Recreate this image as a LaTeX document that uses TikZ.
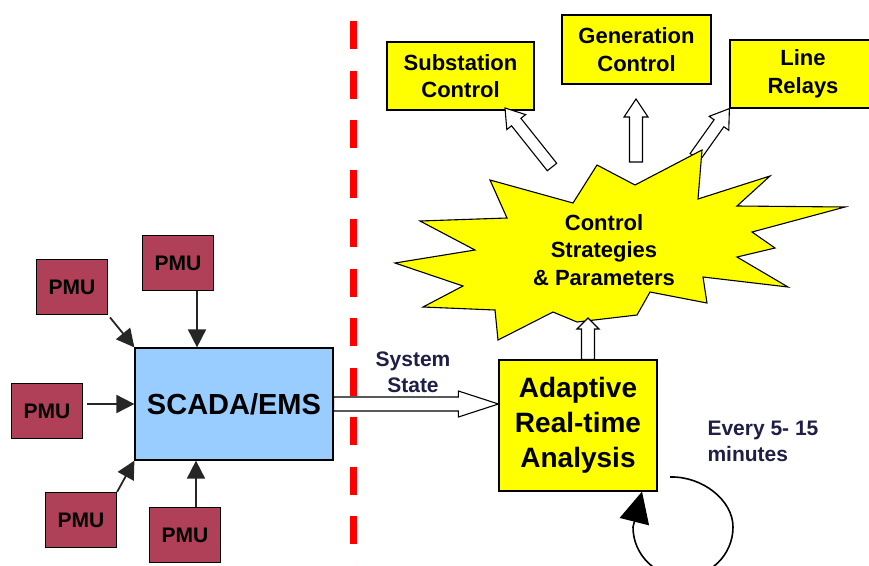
\documentclass[tikz,border=0pt]{standalone}
\usepackage{fontspec}
\setmainfont{Liberation Sans}
\usetikzlibrary{arrows.meta,calc,positioning}
\definecolor{pmured}{RGB}{176,64,88}
\definecolor{scadablue}{RGB}{153,204,255}
\definecolor{boxyellow}{RGB}{255,255,0}
\definecolor{labelnavy}{RGB}{30,30,70}
\tikzset{
    pmu/.style={draw, fill=pmured, line width=1.2pt, minimum width=71pt, minimum height=55pt, font=\bfseries\fontsize{21pt}{25pt}\selectfont},
    scadabox/.style={draw, fill=scadablue, line width=1.2pt, minimum width=198pt, minimum height=112pt, font=\bfseries\fontsize{29pt}{34pt}\selectfont},
    ctrlbox/.style={draw, fill=boxyellow, line width=1.2pt, align=center, font=\bfseries\fontsize{22pt}{27.5pt}\selectfont},
    feed/.style={-{Triangle[length=18pt, width=18pt]}, line width=1.8pt, black!85},
    hollow/.style={draw, fill=white, line width=1.1pt, line join=miter},
    burst/.style={draw, fill=boxyellow, line width=1.1pt, line join=miter},
    divider/.style={red, line width=7pt, dash pattern=on 28pt off 21.5pt},
    note/.style={text=labelnavy, font=\bfseries\fontsize{21pt}{26pt}\selectfont}
}
% hollow block arrow: from, to, shaft half width, head half width, head length
\newcommand{\hollowarrow}[5]{%
    \coordinate (ha) at ($(#2)!#5!(#1)$);
    \draw[hollow] ($(#1)!#3!90:(#2)$) -- ($(ha)!#3!90:(#2)$) -- ($(ha)!#4!90:(#2)$) -- (#2)
        -- ($(ha)!#4!-90:(#2)$) -- ($(ha)!#3!-90:(#2)$) -- ($(#1)!#3!-90:(#2)$) -- cycle;
}

\begin{document}
\begin{tikzpicture}[x=1pt, y=-1pt]
    \useasboundingbox (0,0) rectangle (869,565);

    % left side: PMUs feeding SCADA
    \node[scadabox] (scada) at (234,404) {SCADA/EMS};
    \node[pmu] (pmu1) at (72,287) {PMU};
    \node[pmu] (pmu2) at (178,263) {PMU};
    \node[pmu] (pmu3) at (47,411) {PMU};
    \node[pmu] (pmu4) at (81,520) {PMU};
    \node[pmu] (pmu5) at (185,535) {PMU};

    \draw[feed, shorten <=3pt] (pmu1.south east) -- (scada.north west);
    \draw[feed] ([xshift=19pt]pmu2.south) -- ([xshift=19pt]pmu2.south |- scada.north);
    \draw[feed, shorten <=4pt] (pmu3.east |- scada.west) -- (scada.west);
    \draw[feed] (pmu4.north east) -- (scada.south west);
    \draw[feed] ([xshift=11pt]pmu5.north) -- ([xshift=11pt]pmu5.north |- scada.south);

    % divider
    \coordinate (divtop) at (353,21);
    \coordinate (divbot) at (353,575);
    \draw[divider] (divtop) -- (divbot);

    % right side
    \node[ctrlbox, minimum width=158pt, minimum height=131pt, font=\bfseries\fontsize{28pt}{35pt}\selectfont] (adapt) at (578,425.5) {Adaptive\\Real-time\\Analysis};
    \node[ctrlbox, minimum width=147pt, minimum height=68pt] (subst) at (460.5,76) {Substation\\Control};
    \node[ctrlbox, minimum width=149pt, minimum height=69pt] (gen) at (636.5,49.5) {Generation\\Control};
    \node[ctrlbox, minimum width=146pt, minimum height=68pt] (relay) at (803,74) {Line\\Relays};

    \hollowarrow{scada.east}{scada.east -| adapt.west}{7pt}{13pt}{40pt}
    \node[note, align=center] (sysstate) at (413,372) {System\\State};

    \coordinate (substtail) at (552,167);
    \coordinate (substtip) at (505,108);
    \coordinate (gentail) at (636,162);
    \coordinate (gentip) at (636,99);
    \coordinate (relaytail) at (695,157);
    \hollowarrow{substtail}{substtip}{6pt}{12pt}{18pt}
    \hollowarrow{gentail}{gentip}{6.5pt}{12pt}{18pt}
    \hollowarrow{relaytail}{relay.south west}{6pt}{12pt}{18pt}

    % control strategies burst
    \draw[burst] (490,180) -- (573,203) -- (597,165) -- (635,185) -- (702,150) -- (698,199)
        -- (770,176) -- (737,206) -- (845,207) -- (752,232) -- (775,248) -- (737,257)
        -- (788,287) -- (703,277) -- (707,303) -- (650,292) -- (637,315) -- (577,322)
        -- (553,312) -- (498,340) -- (495,310) -- (423,307) -- (463,286) -- (395,263)
        -- (475,250) -- (420,221) -- (507,218) -- cycle;
    \node[align=center, font=\bfseries\fontsize{22pt}{27.5pt}\selectfont] (ctrl) at (604,250) {Control\\Strategies\\\& Parameters};

    \coordinate (burstfoot) at (588,318);
    \hollowarrow{[xshift=10pt]adapt.north}{burstfoot}{6.5pt}{11pt}{11pt}

    % periodic re-run
    \node[note, align=left, anchor=north west] (every) at (704,418) {Every 5- 15\\minutes};
    \coordinate (loopstart) at (670,477);
    \draw[-{Triangle[length=31pt, width=30pt]}, line width=1.6pt] (loopstart)
        .. controls (702,476) and (733,500) .. (733,527)
        .. controls (733,555) and (710,577) .. (683,577)
        .. controls (656,577) and (633,555) .. (633,527)
        -- ([xshift=64pt]adapt.south);
\end{tikzpicture}
\end{document}
